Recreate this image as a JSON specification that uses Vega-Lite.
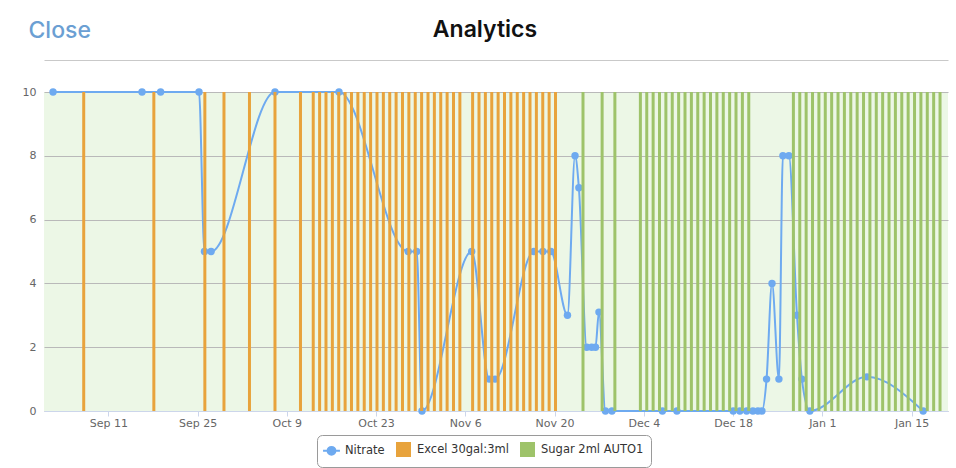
{
  "$schema": "https://vega.github.io/schema/vega-lite/v6.json",
  "width": 904,
  "height": 319,
  "autosize": {"type": "none"},
  "padding": {"left": 44, "top": 92, "right": 8, "bottom": 57},
  "background": "white",
  "config": {
    "view": {"fill": "#ecf7e6", "stroke": null},
    "font": "DejaVu Sans",
    "axisY": {"labelColor": "#666666", "labelFontSize": 11, "labelFont": "DejaVu Sans", "gridColor": "#b9b9b9", "gridWidth": 1, "domain": false, "ticks": false, "tickSize": 0, "labelPadding": 8, "title": null}
  },
  "title": {"text": "Analytics", "anchor": "middle", "frame": "group", "font": "Inter", "fontSize": 23, "fontWeight": 600, "color": "#111111", "dx": -11, "dy": 63, "offset": 22, "baseline": "alphabetic"},
  "datasets": {
    "nitrate": [
      {"date": "2017-09-02T08:00", "series": "Nitrate", "value": 10},
      {"date": "2017-09-16T07:00", "series": "Nitrate", "value": 10},
      {"date": "2017-09-19T05:00", "series": "Nitrate", "value": 10},
      {"date": "2017-09-25T05:30", "series": "Nitrate", "value": 10},
      {"date": "2017-09-26T02:00", "series": "Nitrate", "value": 5},
      {"date": "2017-09-27T03:00", "series": "Nitrate", "value": 5},
      {"date": "2017-10-07T03:30", "series": "Nitrate", "value": 10},
      {"date": "2017-10-17T04:30", "series": "Nitrate", "value": 10},
      {"date": "2017-10-28T01:00", "series": "Nitrate", "value": 5},
      {"date": "2017-10-29T09:00", "series": "Nitrate", "value": 5},
      {"date": "2017-10-30T05:00", "series": "Nitrate", "value": 0},
      {"date": "2017-11-07T00:00", "series": "Nitrate", "value": 5},
      {"date": "2017-11-09T18:00", "series": "Nitrate", "value": 1},
      {"date": "2017-11-10T16:00", "series": "Nitrate", "value": 1},
      {"date": "2017-11-16T18:00", "series": "Nitrate", "value": 5},
      {"date": "2017-11-18T04:00", "series": "Nitrate", "value": 5},
      {"date": "2017-11-19T10:00", "series": "Nitrate", "value": 5},
      {"date": "2017-11-22T00:30", "series": "Nitrate", "value": 3},
      {"date": "2017-11-23T05:00", "series": "Nitrate", "value": 8},
      {"date": "2017-11-23T19:30", "series": "Nitrate", "value": 7},
      {"date": "2017-11-25T01:00", "series": "Nitrate", "value": 2},
      {"date": "2017-11-25T19:30", "series": "Nitrate", "value": 2},
      {"date": "2017-11-26T10:00", "series": "Nitrate", "value": 2},
      {"date": "2017-11-26T23:00", "series": "Nitrate", "value": 3.1},
      {"date": "2017-11-27T23:30", "series": "Nitrate", "value": 0},
      {"date": "2017-11-29T00:00", "series": "Nitrate", "value": 0},
      {"date": "2017-12-06T22:00", "series": "Nitrate", "value": 0},
      {"date": "2017-12-09T04:30", "series": "Nitrate", "value": 0},
      {"date": "2017-12-18T00:30", "series": "Nitrate", "value": 0},
      {"date": "2017-12-19T01:30", "series": "Nitrate", "value": 0},
      {"date": "2017-12-20T03:00", "series": "Nitrate", "value": 0},
      {"date": "2017-12-21T02:30", "series": "Nitrate", "value": 0},
      {"date": "2017-12-21T21:30", "series": "Nitrate", "value": 0},
      {"date": "2017-12-22T12:30", "series": "Nitrate", "value": 0},
      {"date": "2017-12-23T06:00", "series": "Nitrate", "value": 1},
      {"date": "2017-12-24T02:30", "series": "Nitrate", "value": 4},
      {"date": "2017-12-25T04:30", "series": "Nitrate", "value": 1},
      {"date": "2017-12-25T19:30", "series": "Nitrate", "value": 8},
      {"date": "2017-12-26T18:00", "series": "Nitrate", "value": 8},
      {"date": "2017-12-28T00:30", "series": "Nitrate", "value": 3},
      {"date": "2017-12-28T19:00", "series": "Nitrate", "value": 1},
      {"date": "2017-12-30T01:00", "series": "Nitrate", "value": 0},
      {"date": "2018-01-08T00:00", "series": "Nitrate", "value": 1.07},
      {"date": "2018-01-16T19:30", "series": "Nitrate", "value": 0}
    ],
    "events": [
      {"date": "2017-09-07T03:30", "series": "Excel 30gal:3ml", "level": 10},
      {"date": "2017-09-18T03:30", "series": "Excel 30gal:3ml", "level": 10},
      {"date": "2017-09-26T03:30", "series": "Excel 30gal:3ml", "level": 10},
      {"date": "2017-09-29T03:30", "series": "Excel 30gal:3ml", "level": 10},
      {"date": "2017-10-03T03:30", "series": "Excel 30gal:3ml", "level": 10},
      {"date": "2017-10-07T03:30", "series": "Excel 30gal:3ml", "level": 10},
      {"date": "2017-10-11T03:30", "series": "Excel 30gal:3ml", "level": 10},
      {"date": "2017-10-13T03:30", "series": "Excel 30gal:3ml", "level": 10},
      {"date": "2017-10-14T03:30", "series": "Excel 30gal:3ml", "level": 10},
      {"date": "2017-10-15T03:30", "series": "Excel 30gal:3ml", "level": 10},
      {"date": "2017-10-16T03:30", "series": "Excel 30gal:3ml", "level": 10},
      {"date": "2017-10-17T03:30", "series": "Excel 30gal:3ml", "level": 10},
      {"date": "2017-10-18T03:30", "series": "Excel 30gal:3ml", "level": 10},
      {"date": "2017-10-19T03:30", "series": "Excel 30gal:3ml", "level": 10},
      {"date": "2017-10-20T03:30", "series": "Excel 30gal:3ml", "level": 10},
      {"date": "2017-10-21T03:30", "series": "Excel 30gal:3ml", "level": 10},
      {"date": "2017-10-22T03:30", "series": "Excel 30gal:3ml", "level": 10},
      {"date": "2017-10-23T03:30", "series": "Excel 30gal:3ml", "level": 10},
      {"date": "2017-10-24T03:30", "series": "Excel 30gal:3ml", "level": 10},
      {"date": "2017-10-25T03:30", "series": "Excel 30gal:3ml", "level": 10},
      {"date": "2017-10-26T03:30", "series": "Excel 30gal:3ml", "level": 10},
      {"date": "2017-10-27T03:30", "series": "Excel 30gal:3ml", "level": 10},
      {"date": "2017-10-28T03:30", "series": "Excel 30gal:3ml", "level": 10},
      {"date": "2017-10-29T03:30", "series": "Excel 30gal:3ml", "level": 10},
      {"date": "2017-10-30T03:30", "series": "Excel 30gal:3ml", "level": 10},
      {"date": "2017-10-31T03:30", "series": "Excel 30gal:3ml", "level": 10},
      {"date": "2017-11-01T03:30", "series": "Excel 30gal:3ml", "level": 10},
      {"date": "2017-11-02T03:30", "series": "Excel 30gal:3ml", "level": 10},
      {"date": "2017-11-03T03:30", "series": "Excel 30gal:3ml", "level": 10},
      {"date": "2017-11-04T03:30", "series": "Excel 30gal:3ml", "level": 10},
      {"date": "2017-11-05T03:30", "series": "Excel 30gal:3ml", "level": 10},
      {"date": "2017-11-07T03:30", "series": "Excel 30gal:3ml", "level": 10},
      {"date": "2017-11-08T03:30", "series": "Excel 30gal:3ml", "level": 10},
      {"date": "2017-11-09T03:30", "series": "Excel 30gal:3ml", "level": 10},
      {"date": "2017-11-10T03:30", "series": "Excel 30gal:3ml", "level": 10},
      {"date": "2017-11-11T03:30", "series": "Excel 30gal:3ml", "level": 10},
      {"date": "2017-11-12T03:30", "series": "Excel 30gal:3ml", "level": 10},
      {"date": "2017-11-13T03:30", "series": "Excel 30gal:3ml", "level": 10},
      {"date": "2017-11-14T03:30", "series": "Excel 30gal:3ml", "level": 10},
      {"date": "2017-11-15T03:30", "series": "Excel 30gal:3ml", "level": 10},
      {"date": "2017-11-16T03:30", "series": "Excel 30gal:3ml", "level": 10},
      {"date": "2017-11-17T03:30", "series": "Excel 30gal:3ml", "level": 10},
      {"date": "2017-11-18T03:30", "series": "Excel 30gal:3ml", "level": 10},
      {"date": "2017-11-19T03:30", "series": "Excel 30gal:3ml", "level": 10},
      {"date": "2017-11-20T03:30", "series": "Excel 30gal:3ml", "level": 10},
      {"date": "2017-11-24T11:00", "series": "Sugar 2ml AUTO1", "level": 10},
      {"date": "2017-11-27T11:00", "series": "Sugar 2ml AUTO1", "level": 10},
      {"date": "2017-11-29T11:00", "series": "Sugar 2ml AUTO1", "level": 10},
      {"date": "2017-12-03T11:00", "series": "Sugar 2ml AUTO1", "level": 10},
      {"date": "2017-12-04T11:00", "series": "Sugar 2ml AUTO1", "level": 10},
      {"date": "2017-12-05T11:00", "series": "Sugar 2ml AUTO1", "level": 10},
      {"date": "2017-12-06T11:00", "series": "Sugar 2ml AUTO1", "level": 10},
      {"date": "2017-12-07T11:00", "series": "Sugar 2ml AUTO1", "level": 10},
      {"date": "2017-12-08T11:00", "series": "Sugar 2ml AUTO1", "level": 10},
      {"date": "2017-12-09T11:00", "series": "Sugar 2ml AUTO1", "level": 10},
      {"date": "2017-12-10T11:00", "series": "Sugar 2ml AUTO1", "level": 10},
      {"date": "2017-12-11T11:00", "series": "Sugar 2ml AUTO1", "level": 10},
      {"date": "2017-12-12T11:00", "series": "Sugar 2ml AUTO1", "level": 10},
      {"date": "2017-12-13T11:00", "series": "Sugar 2ml AUTO1", "level": 10},
      {"date": "2017-12-14T11:00", "series": "Sugar 2ml AUTO1", "level": 10},
      {"date": "2017-12-15T11:00", "series": "Sugar 2ml AUTO1", "level": 10},
      {"date": "2017-12-16T11:00", "series": "Sugar 2ml AUTO1", "level": 10},
      {"date": "2017-12-17T11:00", "series": "Sugar 2ml AUTO1", "level": 10},
      {"date": "2017-12-18T11:00", "series": "Sugar 2ml AUTO1", "level": 10},
      {"date": "2017-12-19T11:00", "series": "Sugar 2ml AUTO1", "level": 10},
      {"date": "2017-12-20T11:00", "series": "Sugar 2ml AUTO1", "level": 10},
      {"date": "2017-12-27T11:00", "series": "Sugar 2ml AUTO1", "level": 10},
      {"date": "2017-12-28T11:00", "series": "Sugar 2ml AUTO1", "level": 10},
      {"date": "2017-12-29T11:00", "series": "Sugar 2ml AUTO1", "level": 10},
      {"date": "2017-12-30T11:00", "series": "Sugar 2ml AUTO1", "level": 10},
      {"date": "2017-12-31T11:00", "series": "Sugar 2ml AUTO1", "level": 10},
      {"date": "2018-01-01T11:00", "series": "Sugar 2ml AUTO1", "level": 10},
      {"date": "2018-01-02T11:00", "series": "Sugar 2ml AUTO1", "level": 10},
      {"date": "2018-01-03T11:00", "series": "Sugar 2ml AUTO1", "level": 10},
      {"date": "2018-01-04T11:00", "series": "Sugar 2ml AUTO1", "level": 10},
      {"date": "2018-01-05T11:00", "series": "Sugar 2ml AUTO1", "level": 10},
      {"date": "2018-01-06T11:00", "series": "Sugar 2ml AUTO1", "level": 10},
      {"date": "2018-01-07T11:00", "series": "Sugar 2ml AUTO1", "level": 10},
      {"date": "2018-01-08T11:00", "series": "Sugar 2ml AUTO1", "level": 10},
      {"date": "2018-01-09T11:00", "series": "Sugar 2ml AUTO1", "level": 10},
      {"date": "2018-01-10T11:00", "series": "Sugar 2ml AUTO1", "level": 10},
      {"date": "2018-01-11T11:00", "series": "Sugar 2ml AUTO1", "level": 10},
      {"date": "2018-01-12T11:00", "series": "Sugar 2ml AUTO1", "level": 10},
      {"date": "2018-01-13T11:00", "series": "Sugar 2ml AUTO1", "level": 10},
      {"date": "2018-01-14T11:00", "series": "Sugar 2ml AUTO1", "level": 10},
      {"date": "2018-01-15T11:00", "series": "Sugar 2ml AUTO1", "level": 10},
      {"date": "2018-01-16T11:00", "series": "Sugar 2ml AUTO1", "level": 10},
      {"date": "2018-01-17T11:00", "series": "Sugar 2ml AUTO1", "level": 10},
      {"date": "2018-01-18T11:00", "series": "Sugar 2ml AUTO1", "level": 10},
      {"date": "2018-01-19T11:00", "series": "Sugar 2ml AUTO1", "level": 10}
    ]
  },
  "resolve": {"axis": {"x": "independent"}},
  "layer": [
    {
      "data": {"name": "nitrate"},
      "mark": {"type": "line", "interpolate": "monotone", "strokeWidth": 2},
      "encoding": {
        "x": {"field": "date", "type": "temporal",
          "scale": {"domain": [{"year": 2017, "month": "aug", "date": 31, "hours": 22}, {"year": 2018, "month": "jan", "date": 20, "hours": 17}]},
          "axis": {"orient": "top", "offset": 32, "labels": false, "ticks": false, "grid": false, "domain": true, "domainColor": "#c9c9c9", "domainWidth": 1,
            "title": "Close", "titleX": -16, "titleY": -23, "titleAngle": 0, "titleAlign": "left", "titleBaseline": "alphabetic", "titleFont": "Inter", "titleFontSize": 23, "titleFontWeight": 500, "titleColor": "#6b9fd3", "titlePadding": 0}},
        "y": {"field": "value", "type": "quantitative", "scale": {"domain": [0, 10], "nice": false}, "axis": {"values": [0, 2, 4, 6, 8, 10], "title": null}},
        "color": {"field": "series", "type": "nominal",
          "scale": {"domain": ["Nitrate", "Excel 30gal:3ml", "Sugar 2ml AUTO1"], "range": ["#6eaaf0", "#e8a33c", "#9ec36a"]},
          "legend": {"orient": "none", "legendX": 273, "legendY": 343, "direction": "horizontal", "title": null,
            "strokeColor": "#9a9a9a", "cornerRadius": 5, "padding": 7, "fillColor": "white",
            "labelFont": "DejaVu Sans", "labelFontSize": 11.5, "labelColor": "#333333", "labelOffset": 6, "columnPadding": 8, "symbolSize": 169,
            "encode": {"symbols": {"update": {
              "shape": [{"test": "datum.value === 'Nitrate'", "value": "M-1.3,0L1.3,0M-0.6,0A0.6,0.6 0 1,1 0.6,0A0.6,0.6 0 1,1 -0.6,0Z"}, {"value": "square"}],
              "strokeWidth": {"value": 2},
              "fillOpacity": {"value": 1},
              "strokeOpacity": {"value": 1}
            }}}}}
      }
    },
    {
      "data": {"name": "nitrate"},
      "mark": {"type": "point", "filled": true, "size": 55, "opacity": 1},
      "encoding": {
        "x": {"field": "date", "type": "temporal", "axis": null},
        "y": {"field": "value", "type": "quantitative", "scale": {"domain": [0, 10], "nice": false}, "axis": {"values": [0, 2, 4, 6, 8, 10], "title": null}},
        "color": {"field": "series", "type": "nominal"}
      }
    },
    {
      "data": {"name": "events"},
      "mark": {"type": "rule", "strokeWidth": 3},
      "encoding": {
        "x": {"field": "date", "type": "temporal",
          "axis": {"orient": "bottom", "values": [
            {"year": 2017, "month": "sep", "date": 11}, {"year": 2017, "month": "sep", "date": 25},
            {"year": 2017, "month": "oct", "date": 9}, {"year": 2017, "month": "oct", "date": 23},
            {"year": 2017, "month": "nov", "date": 6}, {"year": 2017, "month": "nov", "date": 20},
            {"year": 2017, "month": "dec", "date": 4}, {"year": 2017, "month": "dec", "date": 18},
            {"year": 2018, "month": "jan", "date": 1}, {"year": 2018, "month": "jan", "date": 15}],
            "format": "%b %-d", "labelColor": "#666666", "labelFontSize": 11, "labelFont": "DejaVu Sans", "labelPadding": 1,
            "tickColor": "#ccd6eb", "tickSize": 5, "domainColor": "#ccd6eb", "grid": false, "title": null, "labelFlush": false}},
        "y": {"field": "level", "type": "quantitative", "scale": {"domain": [0, 10], "nice": false}, "axis": {"values": [0, 2, 4, 6, 8, 10], "title": null}},
        "y2": {"datum": 0},
        "color": {"field": "series", "type": "nominal"}
      }
    }
  ]
}
